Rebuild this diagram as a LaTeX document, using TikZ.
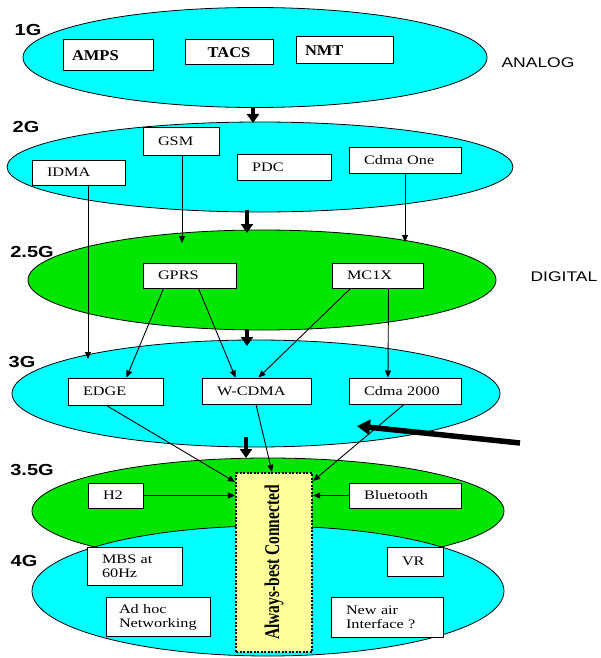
\documentclass[tikz,border=0pt]{standalone}
\usepackage{fontspec}
\setmainfont{Liberation Serif}
\newfontfamily\boxfont[FakeStretch=1.25]{Liberation Serif}
\newfontfamily\oldfont[FakeStretch=1.1]{Liberation Serif}
\newfontfamily\labfont[FakeStretch=1.25]{Liberation Sans}
\usetikzlibrary{shapes.geometric, arrows.meta}
\definecolor{skyband}{RGB}{0,255,255}
\definecolor{greenband}{RGB}{0,230,0}
\definecolor{abcyellow}{RGB}{255,255,153}

\begin{document}
\begin{tikzpicture}
      [x=1pt, y=-1pt,
        band/.style={ellipse, draw, line width=0.8pt, inner sep=0pt},
        tech/.style={draw, fill=white, line width=1pt, inner xsep=15pt, inner ysep=0pt,
          align=left, font=\boxfont\fontsize{13}{14}\selectfont},
        oldtech/.style={tech, inner xsep=9pt, font=\oldfont\bfseries\fontsize{15}{16}\selectfont},
        gen/.style={font=\labfont\bfseries\fontsize{16}{16}\selectfont},
        era/.style={font=\labfont\fontsize{14}{14}\selectfont},
        flow/.style={-{Triangle[length=7pt, width=6pt]}, line width=0.9pt},
        jump/.style={-{Triangle[length=9pt, width=12pt]}, line width=3.2pt}]
      \useasboundingbox (0,0) rectangle (600,658);
      \node[band, fill=skyband, minimum width=464pt, minimum height=100pt] (g1) at (255,57.5) {};
      \node[band, fill=skyband, minimum width=506pt, minimum height=90pt] (g2) at (260,167) {};
      \node[band, fill=greenband, minimum width=468pt, minimum height=100pt] (g25) at (262,280) {};
      \node[band, fill=skyband, minimum width=488pt, minimum height=107pt] (g3) at (256,393.5) {};
      \node[band, fill=greenband, minimum width=472pt, minimum height=106pt] (g35) at (268,511) {};
      \node[band, fill=skyband, minimum width=472pt, minimum height=130pt] (g4) at (268,591) {};
      \node[gen] (l1) at (28,30) {1G};
      \node[gen] (l2) at (26,127) {2G};
      \node[gen] (l25) at (32,252) {2.5G};
      \node[gen] (l3) at (22,362) {3G};
      \node[gen] (l35) at (32,470) {3.5G};
      \node[gen] (l4) at (24,561) {4G};
      \node[era] (analog) at (538,63) {ANALOG};
      \node[era, anchor=west] (digital) at (527,277) {DIGITAL};
      \node[oldtech, text width=72pt, minimum height=31pt] (amps) at (108,55.5) {AMPS};
      \node[oldtech, text width=70pt, minimum height=25pt, align=center] (tacs) at (229,52.5) {TACS};
      \node[oldtech, text width=79pt, minimum height=27pt] (nmt) at (344.5,50.5) {NMT};
      \node[tech, text width=46pt, minimum height=27pt] (gsm) at (181,141.5) {GSM};
      \node[tech, text width=63pt, minimum height=25pt] (idma) at (78.5,172.5) {IDMA};
      \node[tech, text width=64pt, minimum height=26pt] (pdc) at (284,167) {PDC};
      \node[tech, text width=82pt, minimum height=26pt] (cdmaone) at (405,160) {Cdma One};
      \node[tech, text width=63pt, minimum height=25pt] (gprs) at (189.5,275.5) {GPRS};
      \node[tech, text width=61pt, minimum height=25pt] (mc1x) at (377.5,275.5) {MC1X};
      \node[tech, text width=65pt, minimum height=27pt] (edge) at (115.5,391.5) {EDGE};
      \node[tech, text width=79pt, minimum height=26pt] (wcdma) at (256.5,391) {W-CDMA};
      \node[tech, text width=82pt, minimum height=26pt] (cdma2000) at (405,391) {Cdma 2000};
      \node[tech, text width=25pt, minimum height=25pt] (h2) at (115.5,495.5) {H2};
      \node[tech, text width=82pt, minimum height=25pt] (bluetooth) at (405,495.5) {Bluetooth};
      \node[tech, text width=65pt, minimum height=38pt] (mbs) at (134.5,566) {MBS at\\60Hz};
      \node[tech, text width=26pt, minimum height=29pt] (vr) at (415,561.5) {VR};
      \node[tech, inner xsep=13pt, text width=78pt, minimum height=39pt] (adhoc) at (158,617) {Ad hoc\\Networking};
      \node[tech, text width=82pt, minimum height=40pt] (newair) at (387,617) {New air\\Interface ?};
      \node[draw, fill=abcyellow, dash pattern=on 2pt off 1.5pt, line width=2.2pt, inner sep=0pt,
        minimum width=76pt, minimum height=179pt] (abc) at (274,562.5)
        {\rotatebox{90}{\scalebox{1}[1.35]{\bfseries\fontsize{15.5}{16}\selectfont Always-best Connected}}};
      \coordinate (idmaend) at (88,359);
      \coordinate (gsmend) at (182,243);
      \coordinate (cdmaoneend) at (405,242);
      \coordinate (hint) at (520,443);
      \coordinate (hintend) at (357,426);
      \draw[jump] (253,107) -- (253,123);
      \draw[jump] (247,210) -- (247,233);
      \draw[jump] (247,329) -- (247,346);
      \draw[jump] (246,437) -- (246,458);
      \draw[-{Triangle[length=13pt, width=15pt]}, line width=5.5pt] (hint) -- (hintend);
      \draw[flow] (idma.south -| idmaend) -- (idmaend);
      \draw[flow] (gsm.south -| gsmend) -- (gsmend);
      \draw[flow] (cdmaone.south) -- (cdmaoneend);
      \draw[flow] ([xshift=-26pt]gprs.south) -- ([xshift=11pt]edge.north);
      \draw[flow] ([xshift=9pt]gprs.south) -- ([xshift=-21pt]wcdma.north);
      \draw[flow] ([xshift=-27pt]mc1x.south) -- ([xshift=2pt]wcdma.north);
      \draw[flow] ([xshift=11pt]mc1x.south) -- ([xshift=-17pt]cdma2000.north);
      \draw[flow] ([xshift=-9pt]edge.south) -- ([yshift=-10pt]abc.north west);
      \draw[flow] ([xshift=-0.5pt]wcdma.south) -- ([xshift=-2pt]abc.north);
      \draw[flow] ([xshift=-1pt]cdma2000.south) -- ([yshift=-9pt]abc.north east);
      \draw[flow] (h2.east) -- (h2.east -| abc.west);
      \draw[flow] (bluetooth.west) -- (bluetooth.west -| abc.east);
    \end{tikzpicture}
\end{document}
